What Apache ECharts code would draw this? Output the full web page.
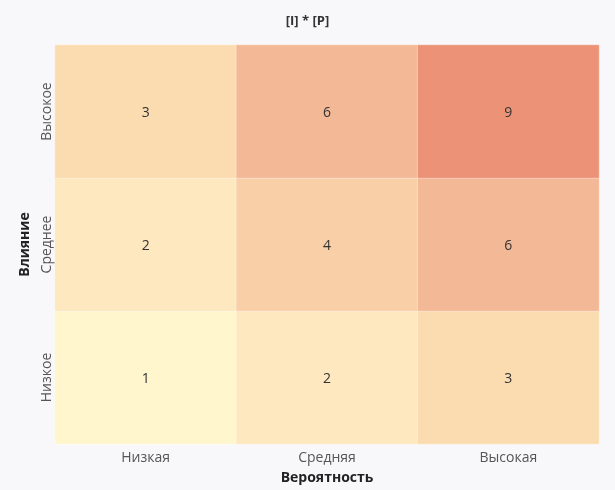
<!DOCTYPE html>
<html><head><meta charset="utf-8">
<script src="https://cdn.jsdelivr.net/npm/echarts@6/dist/echarts.min.js"></script>
<style>html,body{margin:0;padding:0;background:#f8f8fa}#c{width:615px;height:490px}</style>
</head><body><div id="c"></div>
<script>
const xCategories = ['Низкая', 'Средняя', 'Высокая'];
const yCategories = ['Низкое', 'Среднее', 'Высокое'];
const rowLow = [1, 2, 3];
const rowMid = [2, 4, 6];
const rowHigh = [3, 6, 9];
const rows = [rowLow, rowMid, rowHigh];
const data = [];
rows.forEach((r, yi) => r.forEach((v, xi) => data.push([xi, yi, v])));
const font = '"Open Sans", "Noto Sans", sans-serif';
const chart = echarts.init(document.getElementById('c'));
chart.setOption({
  backgroundColor: '#f8f8fa',
  textStyle: {fontFamily: font},
  title: {text: '[I] * [P]', left: 'center', top: 10,
    textStyle: {fontSize: 13, fontWeight: 'bold', color: '#333', fontFamily: font}},
  grid: {left: 55, right: 16, top: 45, bottom: 46},
  xAxis: {type: 'category', data: xCategories,
    name: 'Вероятность', nameLocation: 'middle', nameGap: 27,
    nameTextStyle: {fontSize: 14, fontWeight: 'bold', color: '#222', fontFamily: font},
    axisLine: {show: false}, axisTick: {show: false}, splitLine: {show: false},
    axisLabel: {fontSize: 14, color: '#555', margin: 7, fontFamily: font}},
  yAxis: {type: 'category', data: yCategories,
    name: 'Влияние', nameLocation: 'middle', nameGap: 19,
    nameTextStyle: {fontSize: 14, fontWeight: 'bold', color: '#222', fontFamily: font},
    axisLabel: {fontSize: 14, color: '#555', rotate: 90, margin: 1, fontFamily: font},
    axisLine: {show: false}, axisTick: {show: false}, splitLine: {show: false}},
  visualMap: {show: false, type: 'continuous', min: 1, max: 9, dimension: 2,
    inRange: {color: ['#fff6cd', '#fde8bf', '#fbdcb0', '#f8cfa7', '#f6c59f', '#f3b896', '#f0aa8a', '#ee9f80', '#ec9377']}},
  series: [{type: 'heatmap', data: data,
    label: {show: true, fontSize: 14, color: '#333', fontFamily: font, offset: [0, 2]},
    itemStyle: {borderColor: 'rgba(255,255,255,0.35)', borderWidth: 1}}]
});
</script></body></html>
